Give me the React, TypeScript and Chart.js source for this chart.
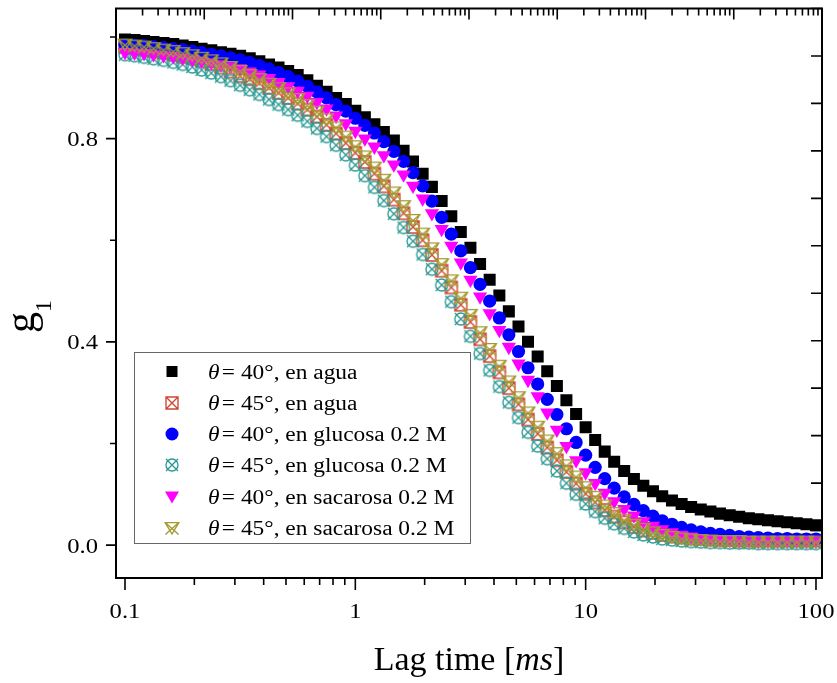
import React, { useEffect, useRef } from "react";
import { Chart, registerables } from "chart.js";

Chart.register(...registerables);

// Lag time [ms]
const lagTimes = [
  0.100, 0.110, 0.121, 0.133, 0.147, 0.162, 0.178, 0.196, 0.215, 0.237,
  0.261, 0.287, 0.316, 0.348, 0.383, 0.422, 0.464, 0.511, 0.562, 0.619,
  0.681, 0.750, 0.825, 0.909, 1.00, 1.10, 1.21, 1.33, 1.47, 1.62,
  1.78, 1.96, 2.15, 2.37, 2.61, 2.87, 3.16, 3.48, 3.83, 4.22,
  4.64, 5.11, 5.62, 6.19, 6.81, 7.50, 8.25, 9.09, 10.0, 11.0,
  12.1, 13.3, 14.7, 16.2, 17.8, 19.6, 21.5, 23.7, 26.1, 28.7,
  31.6, 34.8, 38.3, 42.2, 46.4, 51.1, 56.2, 61.9, 68.1, 75.0,
  82.5, 90.9, 100,
];

// θ = 40°, en agua
const g1Agua40 = [
  0.995, 0.994, 0.992, 0.990, 0.988, 0.986, 0.983, 0.980, 0.977, 0.974,
  0.970, 0.967, 0.963, 0.958, 0.952, 0.946, 0.940, 0.933, 0.925, 0.915,
  0.904, 0.892, 0.880, 0.868, 0.855, 0.842, 0.828, 0.813, 0.796, 0.776,
  0.755, 0.731, 0.705, 0.677, 0.647, 0.616, 0.585, 0.553, 0.522, 0.491,
  0.460, 0.430, 0.400, 0.371, 0.342, 0.313, 0.285, 0.258, 0.232, 0.207,
  0.184, 0.164, 0.146, 0.130, 0.117, 0.106, 0.096, 0.088, 0.081, 0.075,
  0.070, 0.066, 0.062, 0.059, 0.056, 0.053, 0.051, 0.049, 0.047, 0.045,
  0.043, 0.041, 0.039,
];

// θ = 45°, en agua
const g1Agua45 = [
  0.980, 0.978, 0.975, 0.972, 0.969, 0.965, 0.961, 0.958, 0.953, 0.947,
  0.940, 0.932, 0.923, 0.917, 0.909, 0.900, 0.890, 0.880, 0.869, 0.857,
  0.843, 0.827, 0.810, 0.791, 0.772, 0.754, 0.731, 0.706, 0.680, 0.653,
  0.626, 0.600, 0.571, 0.540, 0.507, 0.473, 0.439, 0.405, 0.372, 0.340,
  0.309, 0.277, 0.247, 0.219, 0.192, 0.167, 0.144, 0.121, 0.101, 0.084,
  0.069, 0.056, 0.045, 0.036, 0.029, 0.024, 0.020, 0.017, 0.015, 0.013,
  0.012, 0.011, 0.010, 0.010, 0.009, 0.009, 0.009, 0.009, 0.009, 0.009,
  0.009, 0.009, 0.009,
];

// θ = 40°, en glucosa 0.2 M
const g1Glucosa40 = [
  0.985, 0.984, 0.983, 0.981, 0.979, 0.977, 0.975, 0.972, 0.969, 0.966,
  0.963, 0.959, 0.955, 0.950, 0.944, 0.937, 0.930, 0.922, 0.913, 0.903,
  0.892, 0.880, 0.867, 0.854, 0.840, 0.826, 0.811, 0.794, 0.775, 0.755,
  0.733, 0.707, 0.677, 0.645, 0.612, 0.579, 0.546, 0.513, 0.480, 0.447,
  0.414, 0.381, 0.349, 0.317, 0.287, 0.257, 0.229, 0.202, 0.177, 0.153,
  0.131, 0.112, 0.095, 0.080, 0.068, 0.057, 0.048, 0.041, 0.035, 0.030,
  0.026, 0.023, 0.021, 0.019, 0.017, 0.016, 0.015, 0.014, 0.013, 0.013,
  0.012, 0.012, 0.012,
];

// θ = 45°, en glucosa 0.2 M
const g1Glucosa45 = [
  0.965, 0.963, 0.960, 0.957, 0.954, 0.950, 0.946, 0.941, 0.935, 0.929,
  0.922, 0.914, 0.905, 0.896, 0.887, 0.877, 0.867, 0.857, 0.846, 0.834,
  0.820, 0.804, 0.787, 0.768, 0.748, 0.727, 0.704, 0.678, 0.652, 0.625,
  0.598, 0.572, 0.543, 0.512, 0.479, 0.445, 0.411, 0.377, 0.344, 0.312,
  0.281, 0.251, 0.222, 0.195, 0.170, 0.146, 0.122, 0.100, 0.081, 0.066,
  0.053, 0.042, 0.033, 0.026, 0.020, 0.016, 0.012, 0.010, 0.008, 0.007,
  0.006, 0.005, 0.005, 0.004, 0.004, 0.004, 0.003, 0.003, 0.003, 0.003,
  0.003, 0.003, 0.003,
];

// θ = 40°, en sacarosa 0.2 M
const g1Sacarosa40 = [
  0.970, 0.969, 0.968, 0.966, 0.964, 0.962, 0.959, 0.956, 0.953, 0.950,
  0.946, 0.942, 0.938, 0.932, 0.926, 0.919, 0.911, 0.903, 0.894, 0.884,
  0.872, 0.859, 0.845, 0.830, 0.815, 0.800, 0.784, 0.767, 0.749, 0.729,
  0.707, 0.682, 0.653, 0.622, 0.589, 0.556, 0.522, 0.489, 0.456, 0.423,
  0.390, 0.357, 0.325, 0.293, 0.261, 0.227, 0.195, 0.167, 0.143, 0.122,
  0.103, 0.086, 0.071, 0.058, 0.047, 0.038, 0.031, 0.025, 0.020, 0.017,
  0.014, 0.012, 0.011, 0.010, 0.009, 0.009, 0.008, 0.008, 0.008, 0.008,
  0.008, 0.008, 0.008,
];

// θ = 45°, en sacarosa 0.2 M
const g1Sacarosa45 = [
  0.985, 0.983, 0.981, 0.978, 0.975, 0.972, 0.968, 0.964, 0.959, 0.954,
  0.948, 0.941, 0.933, 0.925, 0.917, 0.908, 0.899, 0.889, 0.878, 0.866,
  0.853, 0.838, 0.822, 0.804, 0.785, 0.765, 0.743, 0.719, 0.694, 0.667,
  0.640, 0.613, 0.584, 0.553, 0.521, 0.487, 0.453, 0.419, 0.386, 0.353,
  0.322, 0.291, 0.261, 0.233, 0.206, 0.181, 0.157, 0.135, 0.114, 0.095,
  0.078, 0.063, 0.050, 0.040, 0.032, 0.025, 0.020, 0.016, 0.013, 0.011,
  0.010, 0.009, 0.008, 0.008, 0.008, 0.007, 0.007, 0.007, 0.007, 0.007,
  0.007, 0.007, 0.007,
];

const seriesLabels = [
  "θ = 40°, en agua",
  "θ = 45°, en agua",
  "θ = 40°, en glucosa 0.2 M",
  "θ = 45°, en glucosa 0.2 M",
  "θ = 40°, en sacarosa 0.2 M",
  "θ = 45°, en sacarosa 0.2 M",
];

const xMajorTicks = [0.1, 1, 10, 100];
const xTickLabels = ["0.1", "1", "10", "100"];
const xMinorTicks = [0.2, 0.3, 0.4, 0.5, 0.6, 0.7, 0.8, 0.9, 2, 3, 4, 5, 6, 7, 8, 9, 20, 30, 40, 50, 60, 70, 80, 90];
const yMajorTicks = [0, 0.4, 0.8];
const yTickLabels = ["0.0", "0.4", "0.8"];
const yMinorTicks = [0.2, 0.6, 1.0];
const topDecades = [1, 10, 100, 1e3, 1e4, 1e5, 1e6, 1e7, 1e8];
const rightTicks = [0, 1, 2, 3, 4, 5, 6, 7, 8, 9, 10, 11, 12];

const xAxisTitle = ["Lag time [", "ms", "]"];
const yAxisTitle = ["g", "1"];

const FONT = '"Liberation Serif", "Times New Roman", serif';
const COLORS = ["#000000", "#d0452f", "#0000ff", "#2a9a94", "#ff00ff", "#a39a30"];

function openMarker(kind: string, color: string): HTMLCanvasElement {
  const c = document.createElement("canvas");
  c.width = 18;
  c.height = 18;
  const g = c.getContext("2d")!;
  g.strokeStyle = color;
  g.lineWidth = 1.35;
  const cx = 9, cy = 9, s = 6;
  g.beginPath();
  if (kind === "square") {
    g.rect(cx - s, cy - s, 2 * s, 2 * s);
    g.moveTo(cx - s, cy - s); g.lineTo(cx + s, cy + s);
    g.moveTo(cx + s, cy - s); g.lineTo(cx - s, cy + s);
  } else if (kind === "circle") {
    g.arc(cx, cy, s, 0, Math.PI * 2);
    g.moveTo(cx - s, cy - s); g.lineTo(cx + s, cy + s);
    g.moveTo(cx + s, cy - s); g.lineTo(cx - s, cy + s);
  } else {
    g.moveTo(cx - s - 0.8, cy - s + 0.6);
    g.lineTo(cx + s + 0.8, cy - s + 0.6);
    g.lineTo(cx, cy + s);
    g.closePath();
    g.moveTo(cx - s - 0.8, cy - s + 0.6); g.lineTo(cx + s + 0.6, cy + s + 0.6);
    g.moveTo(cx + s + 0.8, cy - s + 0.6); g.lineTo(cx - s - 0.6, cy + s + 0.6);
  }
  g.stroke();
  return c;
}

function drawLegendMarker(ctx: CanvasRenderingContext2D, i: number, x: number, y: number, imgs: any[]) {
  ctx.save();
  ctx.fillStyle = COLORS[i];
  if (i === 0) {
    ctx.fillRect(x - 5.5, y - 5.5, 11, 11);
  } else if (i === 2) {
    ctx.beginPath();
    ctx.arc(x, y, 6.5, 0, Math.PI * 2);
    ctx.fill();
  } else if (i === 4) {
    ctx.beginPath();
    ctx.moveTo(x - 7, y - 5);
    ctx.lineTo(x + 7, y - 5);
    ctx.lineTo(x, y + 7);
    ctx.closePath();
    ctx.fill();
  } else {
    const img = imgs[i];
    ctx.drawImage(img, Math.round(x - 9), Math.round(y - 9));
  }
  ctx.restore();
}

export default function App() {
  const canvasRef = useRef<HTMLCanvasElement | null>(null);

  useEffect(() => {
    document.body.style.margin = "0";
    const canvas = canvasRef.current!;
    const imgs: any[] = [
      null,
      openMarker("square", COLORS[1]),
      null,
      openMarker("circle", COLORS[3]),
      null,
      openMarker("triangle", COLORS[5]),
    ];
    const series = [g1Agua40, g1Agua45, g1Glucosa40, g1Glucosa45, g1Sacarosa40, g1Sacarosa45];
    const styles: any[] = [
      { pointStyle: "rect", pointRadius: 8.5, pointRotation: 0 },
      { pointStyle: imgs[1], pointRadius: 6, pointRotation: 0 },
      { pointStyle: "circle", pointRadius: 6.6, pointRotation: 0 },
      { pointStyle: imgs[3], pointRadius: 6, pointRotation: 0 },
      { pointStyle: "triangle", pointRadius: 8.2, pointRotation: 180 },
      { pointStyle: imgs[5], pointRadius: 6, pointRotation: 0 },
    ];

    const datasets = series.map((arr, i) => ({
      label: seriesLabels[i],
      data: lagTimes.map((t, k) => ({ x: t, y: arr[k] })),
      showLine: false,
      pointStyle: styles[i].pointStyle,
      pointRadius: styles[i].pointRadius,
      pointHoverRadius: styles[i].pointRadius,
      pointRotation: styles[i].pointRotation,
      backgroundColor: COLORS[i],
      borderColor: COLORS[i],
      pointBorderWidth: 0,
      borderWidth: 0,
      order: 6 - i,
      xAxisID: "x",
      yAxisID: "y",
    }));

    const decorPlugin = {
      id: "decor",
      afterDraw(chart: any) {
        const ctx: CanvasRenderingContext2D = chart.ctx;
        const { left, right, top, bottom } = chart.chartArea;
        const xs = chart.scales.x, ys = chart.scales.y, xt = chart.scales.x2, yr = chart.scales.y2;
        ctx.save();
        ctx.strokeStyle = "#000";
        ctx.lineCap = "butt";

        // ticks
        ctx.lineWidth = 1.6;
        ctx.beginPath();
        xMajorTicks.forEach((v) => { const p = xs.getPixelForValue(v); ctx.moveTo(p, bottom); ctx.lineTo(p, bottom + 12); });
        xMinorTicks.forEach((v) => { const p = xs.getPixelForValue(v); ctx.moveTo(p, bottom); ctx.lineTo(p, bottom + 7); });
        yMajorTicks.forEach((v) => { const p = ys.getPixelForValue(v); ctx.moveTo(left, p); ctx.lineTo(left - 10, p); });
        yMinorTicks.forEach((v) => { const p = ys.getPixelForValue(v); ctx.moveTo(left, p); ctx.lineTo(left - 6, p); });
        topDecades.forEach((d, k) => {
          const p = xt.getPixelForValue(d);
          ctx.moveTo(p, top); ctx.lineTo(p, top + 11);
          if (k < topDecades.length - 1) {
            for (let m = 2; m <= 9; m++) {
              const q = xt.getPixelForValue(d * m);
              ctx.moveTo(q, top); ctx.lineTo(q, top + 7);
            }
          }
        });
        rightTicks.forEach((v) => { const p = yr.getPixelForValue(v); ctx.moveTo(right, p); ctx.lineTo(right - 11, p); });
        ctx.stroke();

        // frame
        ctx.lineWidth = 2;
        ctx.strokeRect(left, top, right - left, bottom - top);

        // tick labels
        ctx.fillStyle = "#000";
        ctx.textBaseline = "alphabetic";
        xMajorTicks.forEach((v, k) => {
          const p = xs.getPixelForValue(v);
          ctx.save();
          ctx.translate(p, 618);
          ctx.scale(1.12, 1);
          ctx.font = `22px ${FONT}`;
          ctx.textAlign = "center";
          ctx.fillText(xTickLabels[k], 0, 0);
          ctx.restore();
        });
        yMajorTicks.forEach((v, k) => {
          const p = ys.getPixelForValue(v);
          ctx.save();
          ctx.translate(98, p + 7.5);
          ctx.scale(1.12, 1);
          ctx.font = `22px ${FONT}`;
          ctx.textAlign = "right";
          ctx.fillText(yTickLabels[k], 0, 0);
          ctx.restore();
        });

        // x title
        ctx.save();
        const fN = `34px ${FONT}`, fI = `italic 34px ${FONT}`;
        ctx.font = fN; const w1 = ctx.measureText(xAxisTitle[0]).width; const w3 = ctx.measureText(xAxisTitle[2]).width;
        ctx.font = fI; const w2 = ctx.measureText(xAxisTitle[1]).width;
        const cxT = (left + right) / 2;
        let xx = cxT - (w1 + w2 + w3) / 2;
        ctx.textAlign = "left";
        ctx.font = fN; ctx.fillText(xAxisTitle[0], xx, 670); xx += w1;
        ctx.font = fI; ctx.fillText(xAxisTitle[1], xx, 670); xx += w2;
        ctx.font = fN; ctx.fillText(xAxisTitle[2], xx, 670);
        ctx.restore();

        // y title
        ctx.save();
        ctx.translate(34, 333);
        ctx.rotate(-Math.PI / 2);
        ctx.textAlign = "left";
        ctx.font = `42px ${FONT}`;
        ctx.fillText(yAxisTitle[0], 0, 0);
        const gw = ctx.measureText(yAxisTitle[0]).width;
        ctx.font = `24px ${FONT}`;
        ctx.fillText(yAxisTitle[1], gw, 17);
        ctx.restore();

        // legend
        const bx = 134, by = 352, bw = 336, bh = 191;
        ctx.save();
        ctx.fillStyle = "#fff";
        ctx.fillRect(bx, by, bw, bh);
        ctx.strokeStyle = "#666";
        ctx.lineWidth = 1;
        ctx.strokeRect(bx + 0.5, by + 0.5, bw, bh);
        seriesLabels.forEach((lab, i) => {
          const yc = 371.5 + 31.25 * i;
          drawLegendMarker(ctx, i, 172, yc, imgs);
          ctx.save();
          ctx.fillStyle = "#000";
          ctx.translate(208, yc + 7);
          ctx.scale(1.17, 1);
          ctx.textAlign = "left";
          ctx.font = `italic 20px ${FONT}`;
          const th = lab.charAt(0);
          ctx.fillText(th, 0, 0);
          const tw = ctx.measureText(th).width;
          ctx.font = `20px ${FONT}`;
          ctx.fillText(lab.slice(1).trimStart(), tw + 2, 0);
          ctx.restore();
        });
        ctx.restore();

        ctx.restore();
      },
    };

    const chart = new Chart(canvas, {
      type: "scatter",
      data: { datasets: datasets as any },
      options: {
        responsive: false,
        animation: false,
        devicePixelRatio: 1,
        events: [],
        layout: { padding: { left: 116, right: 15, top: 6, bottom: 105 } },
        plugins: { legend: { display: false }, tooltip: { enabled: false } },
        scales: {
          x: { type: "logarithmic", min: 0.0914, max: 106.2, display: false },
          y: { type: "linear", min: -0.0647, max: 1.056, display: false },
          x2: { type: "logarithmic", position: "top", min: 1, max: 1e8, display: false },
          y2: { type: "linear", position: "right", min: 0, max: 12, display: false },
        },
      } as any,
      plugins: [decorPlugin],
    });
    return () => chart.destroy();
  }, []);

  return (
    <div style={{ width: 837, height: 683 }}>
      <canvas ref={canvasRef} width={837} height={683} style={{ display: "block" }} />
    </div>
  );
}
